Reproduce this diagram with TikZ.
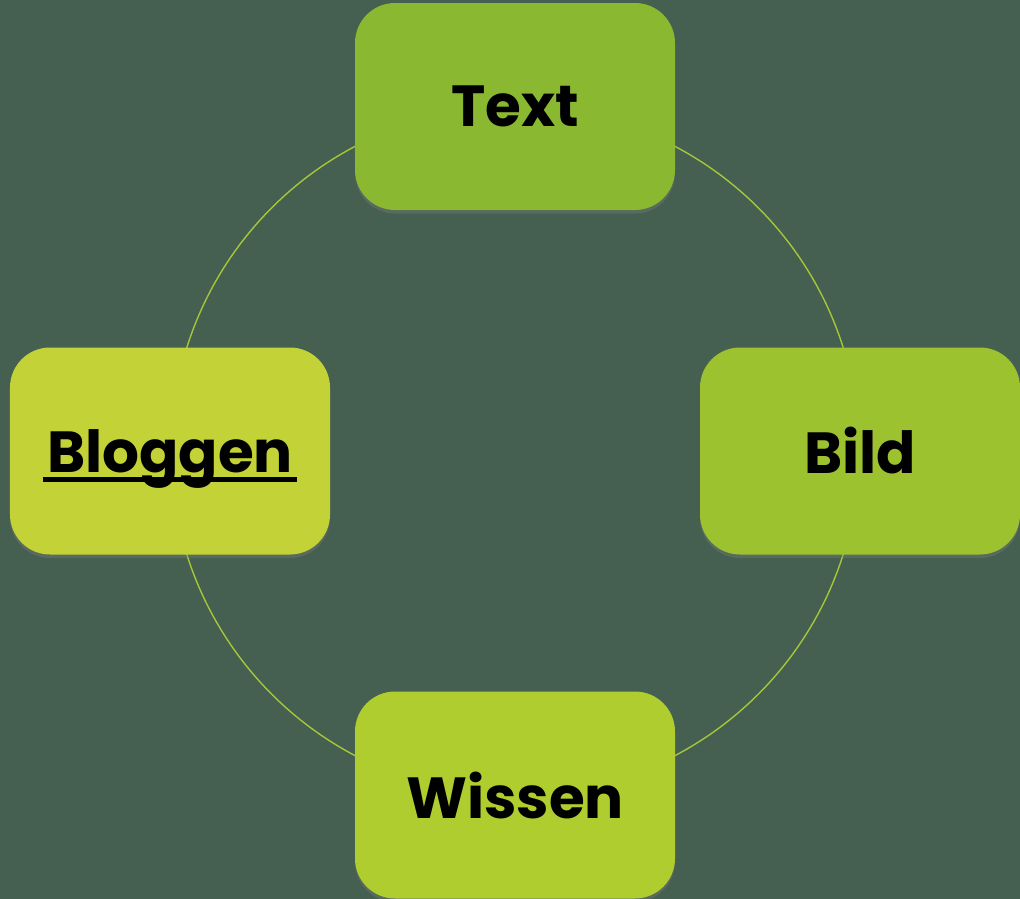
\documentclass[tikz,border=0pt]{standalone}
\usepackage{fontspec}
\setmainfont{Poppins}
\usetikzlibrary{positioning,shadows}
\definecolor{bgGreen}{HTML}{455F50}
\definecolor{ringLine}{HTML}{A6C63A}
\definecolor{textFill}{HTML}{8BB831}
\definecolor{bildFill}{HTML}{9DC22F}
\definecolor{wissenFill}{HTML}{B0CD2F}
\definecolor{blogFill}{HTML}{C3D236}
\newcommand{\thickul}[1]{\leavevmode\setbox0\hbox{\kern2.2pt#1\kern2.2pt}%
  \setbox2\hbox{\rlap{\vrule height-2.8pt depth5.6pt width\wd0}\box0}\dp2=0pt\box2}

\begin{document}
\begin{tikzpicture}[
    box/.style={rounded corners=0.8cm, minimum width=6.4cm, minimum height=4.14cm, align=center,
      font=\fontsize{33}{38}\selectfont\bfseries, text=black,
      drop shadow={shadow xshift=0pt, shadow yshift=-2pt, opacity=0.35}},
    ring/.style={draw=ringLine, line width=0.8pt}
  ]
    \fill[bgGreen] (0,0) rectangle (20.4,-17.98);
    \useasboundingbox (0,0) rectangle (20.4,-17.98);
    \coordinate (hub) at (10.3,-9.02);
    \draw[ring] (hub) circle (6.88cm);

    \node[box, fill=textFill] (text) at (10.3,-2.13) {Text};
    \node[box, fill=bildFill] (bild) at (17.2,-9.02) {Bild};
    \node[box, fill=wissenFill] (wissen) at (10.3,-15.9) {Wissen};
    \node[box, fill=blogFill] (bloggen) at (3.4,-9.02) {\thickul{Bloggen}};
  \end{tikzpicture}
\end{document}
